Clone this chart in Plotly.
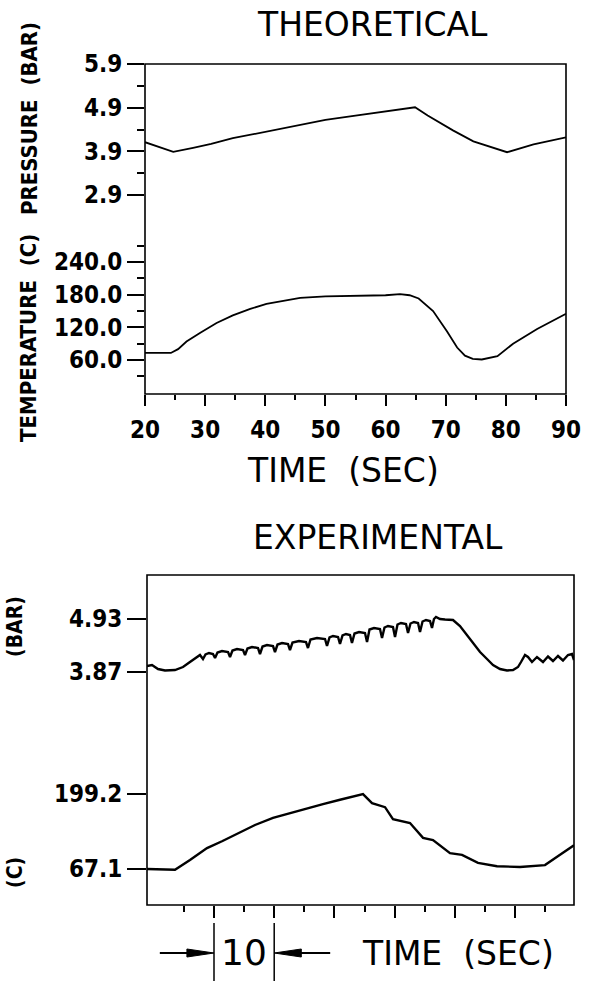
import plotly.graph_objects as go

W, H = 598, 981


def fx(p):
    return p / W


def fy(p):
    return 1 - p / H


# ---------------- data ----------------
# Theoretical pressure (bar) vs time (s)
theo_p_time = [20, 24.7, 28, 31, 34.6, 40, 45.8, 50, 55, 60, 63, 64.9, 67, 69, 71.2, 74.6, 77.5, 80.2, 84.6, 90]
theo_pressure = [4.11, 3.89, 3.98, 4.07, 4.20, 4.35, 4.52, 4.62, 4.72, 4.81, 4.87, 4.91, 4.72, 4.55, 4.38, 4.13, 4.00, 3.88, 4.06, 4.22]

# Theoretical temperature (C) vs time (s)
theo_T_time = [20, 24.3, 25.5, 26.9, 29.2, 31.9, 34.6, 37.5, 40.2, 43, 45.8, 50, 55, 60, 62.4, 64, 65.5,
               67.9, 70.2, 71.9, 73.2, 74.5, 76, 78.6, 81.2, 85.2, 90]
theo_temperature = [73, 73, 80, 94, 110, 128, 142, 154, 163, 169, 174, 177, 178, 179, 181, 179, 173,
                    150, 113, 83, 68, 62, 61, 67, 90, 117, 145]

# Experimental pressure (bar) vs time (s)
exp_p_time = [18.87, 19.70, 20.70, 21.86, 23.52, 24.85, 26.01, 27.01, 27.67,
              28.17, 28.59, 29.17, 29.83,
              30.17, 30.58, 31.33, 32.33,
              32.66, 33.07, 33.82, 34.82,
              35.15, 35.56, 36.31, 37.31,
              37.64, 38.06, 38.80, 39.80,
              40.13, 40.55, 41.30, 42.29,
              42.62, 43.04, 44.12, 45.28,
              45.61, 46.03, 47.11, 48.44,
              48.77, 49.19, 49.77, 50.60,
              50.93, 51.35, 51.93, 52.59,
              52.92, 53.34, 54.09, 55.08,
              55.42, 55.83, 56.58, 57.57,
              57.91, 58.32, 58.90, 59.73,
              60.07, 60.48, 61.06, 61.89,
              62.23, 62.64, 63.22, 63.89,
              64.22, 64.64, 65.22, 65.88,
              66.21, 66.54, 66.88, 67.54, 68.37, 69.70,
              70.86, 72.03, 73.19, 74.19, 75.35, 76.35, 77.51, 78.67, 79.67,
              80.50, 81.00, 81.50, 81.66, 82.16,
              82.82, 83.65, 84.65, 85.48, 86.31, 87.14, 87.97, 88.80, 89.47, 89.80]
exp_pressure = [3.99, 4.01, 3.93, 3.90, 3.91, 3.97, 4.07, 4.15, 4.21,
                4.13, 4.22, 4.25, 4.23,
                4.15, 4.26, 4.29, 4.27,
                4.17, 4.30, 4.33, 4.31,
                4.21, 4.34, 4.37, 4.35,
                4.23, 4.38, 4.41, 4.39,
                4.27, 4.42, 4.45, 4.43,
                4.31, 4.46, 4.49, 4.47,
                4.35, 4.52, 4.55, 4.53,
                4.39, 4.56, 4.59, 4.57,
                4.43, 4.60, 4.63, 4.61,
                4.45, 4.64, 4.67, 4.65,
                4.47, 4.72, 4.75, 4.73,
                4.55, 4.76, 4.79, 4.77,
                4.57, 4.82, 4.85, 4.83,
                4.65, 4.84, 4.87, 4.85,
                4.67, 4.88, 4.91, 4.89,
                4.75, 4.93, 4.97, 4.93, 4.92, 4.91,
                4.79, 4.61, 4.43, 4.27, 4.13, 4.01, 3.93, 3.90, 3.91,
                3.97, 4.07, 4.17, 4.21, 4.17,
                4.07, 4.17, 4.07, 4.18, 4.09, 4.19, 4.10, 4.21, 4.23, 4.11]

# Experimental temperature (C) vs time (s)
exp_T_time = [18.87, 21.03, 23.52, 26.01, 28.84, 31.33, 34.32, 36.81, 39.80, 42.62, 45.45, 48.10,
              50.93, 54.25, 54.75, 56.25, 58.41, 59.73, 62.56, 64.72, 66.38, 69.20, 71.20,
              73.85, 77.01, 80.83, 84.98, 87.48, 89.80]
exp_temperature = [67.1, 67.1, 65.8, 83, 104, 116, 132, 144.6, 157, 165.7, 174, 181.5,
                   189, 197, 199.1, 183, 176, 155, 148, 122, 118, 95, 92,
                   78, 72, 70.6, 74, 92, 109]

# Tick values / labels
theo_time_ticks = [20, 30, 40, 50, 60, 70, 80, 90]
theo_time_minor = [25, 35, 45, 55, 65, 75, 85]
theo_p_ticks = [2.9, 3.9, 4.9, 5.9]
theo_p_minor = [3.4, 4.4, 5.4]
theo_T_ticks = [60, 120, 180, 240]
theo_T_labels = ["60.0", "120.0", "180.0", "240.0"]
theo_T_minor = [30, 90, 150, 210, 270]
exp_time_ticks = [30, 40, 50, 60, 70, 80]
exp_time_minor = [25, 35, 45, 55, 65, 75, 85]
exp_p_ticks = [3.87, 4.93]
exp_p_labels = ["3.87", "4.93"]
exp_T_ticks = [67.1, 199.2]
exp_T_labels = ["67.1", "199.2"]

# ---------------- figure ----------------
LBLFAM = "DejaVu Sans Condensed, DejaVu Sans"
LBL = dict(family=LBLFAM, size=24, color="black", weight="bold")
TXT = "DejaVu Sans, Liberation Sans, sans-serif"

fig = go.Figure()
fig.add_trace(go.Scatter(x=theo_p_time, y=theo_pressure, xaxis="x", yaxis="y", mode="lines",
                         line=dict(color="black", width=1.8)))
fig.add_trace(go.Scatter(x=theo_T_time, y=theo_temperature, xaxis="x", yaxis="y2", mode="lines",
                         line=dict(color="black", width=1.8)))
fig.add_trace(go.Scatter(x=exp_p_time, y=exp_pressure, xaxis="x2", yaxis="y3", mode="lines",
                         line=dict(color="black", width=2.4)))
fig.add_trace(go.Scatter(x=exp_T_time, y=exp_temperature, xaxis="x2", yaxis="y4", mode="lines",
                         line=dict(color="black", width=2.4)))

common = dict(showgrid=False, zeroline=False, showline=False, ticks="outside", automargin=False,
              tickcolor="black", tickwidth=2, tickfont=LBL, tickmode="array")

fig.update_layout(
    template="none",
    width=W, height=H, margin=dict(l=0, r=0, t=0, b=0, pad=0), autosize=False,
    paper_bgcolor="white", plot_bgcolor="white", showlegend=False,
    xaxis=dict(domain=[fx(145), fx(566)], range=[20, 90], anchor="y2",
               tickvals=theo_time_ticks, ticklen=11, ticklabelstandoff=3,
               minor=dict(tickmode="array", tickvals=theo_time_minor, ticklen=5, ticks="outside",
                          tickcolor="black", tickwidth=2),
               **common),
    yaxis=dict(domain=[fy(210), fy(64)], range=[2.557, 5.9], anchor="x",
               tickvals=theo_p_ticks, ticktext=[f"{v:.1f}" for v in theo_p_ticks], ticklen=17,
               minor=dict(tickmode="array", tickvals=theo_p_minor, ticklen=7, ticks="outside",
                          tickcolor="black", tickwidth=2),
               **common),
    yaxis2=dict(domain=[fy(394), fy(240)], range=[-2.4, 280.5], anchor="x",
                tickvals=theo_T_ticks, ticktext=theo_T_labels, ticklen=17,
                minor=dict(tickmode="array", tickvals=theo_T_minor, ticklen=7, ticks="outside",
                           tickcolor="black", tickwidth=2),
                **common),
    xaxis2=dict(domain=[fx(147), fx(574)], range=[18.87, 89.8], anchor="y4",
                tickvals=exp_time_ticks, ticklen=12, showticklabels=False,
                minor=dict(tickmode="array", tickvals=exp_time_minor, ticklen=6, ticks="outside",
                           tickcolor="black", tickwidth=2),
                **common),
    yaxis3=dict(domain=[fy(700), fy(575)], range=[3.31, 5.81], anchor="x2",
                tickvals=exp_p_ticks, ticktext=exp_p_labels, ticklen=19, **common),
    yaxis4=dict(domain=[fy(905), fy(720)], range=[3.7, 329.5], anchor="x2",
                tickvals=exp_T_ticks, ticktext=exp_T_labels, ticklen=19, **common),
)

# frames
fig.add_shape(type="rect", xref="paper", yref="paper", x0=fx(145), x1=fx(566), y0=fy(394), y1=fy(64),
              line=dict(color="black", width=1.6))
fig.add_shape(type="rect", xref="paper", yref="paper", x0=fx(147), x1=fx(574), y0=fy(905), y1=fy(575),
              line=dict(color="black", width=1.6))

# 10-second scale bar (in time units of the experimental axis)
bar_y = fy(953)
hh = 4 / H
for xv in (30, 40):
    fig.add_shape(type="line", xref="x2", yref="paper", x0=xv, x1=xv, y0=fy(923), y1=fy(981),
                  line=dict(color="black", width=1.5))
fig.add_shape(type="line", xref="x2", yref="paper", x0=21.0, x1=26.0, y0=bar_y, y1=bar_y,
              line=dict(color="black", width=2))
fig.add_shape(type="path", xref="x2", yref="paper",
              path=f"M 25.5 {bar_y + hh} L 30 {bar_y} L 25.5 {bar_y - hh} Z",
              fillcolor="black", line=dict(color="black", width=1))
fig.add_shape(type="line", xref="x2", yref="paper", x0=44.0, x1=49.3, y0=bar_y, y1=bar_y,
              line=dict(color="black", width=2))
fig.add_shape(type="path", xref="x2", yref="paper",
              path=f"M 44.5 {bar_y + hh} L 40 {bar_y} L 44.5 {bar_y - hh} Z",
              fillcolor="black", line=dict(color="black", width=1))


def ann(text, x, y, size, bold=False, angle=0, xref="paper", family=TXT):
    fig.add_annotation(text=text, x=x, y=y, xref=xref, yref="paper", showarrow=False,
                       xanchor="center", yanchor="middle", textangle=angle,
                       font=dict(family=family, size=size, color="black",
                                 weight="bold" if bold else "normal"))


NB = "\u00a0"
ann("THEORETICAL", fx(372), fy(24), 33)
ann("TIME" + NB + NB + "(SEC)", fx(343), fy(470), 33)
ann("PRESSURE" + NB + NB + "(BAR)", fx(29), fy(119), 22, bold=True, angle=-90, family=LBLFAM)
ann("TEMPERATURE" + NB + NB + "(C)", fx(29), fy(338), 22, bold=True, angle=-90, family=LBLFAM)
ann("EXPERIMENTAL", fx(378), fy(537), 33)
ann("(BAR)", fx(15), fy(627), 21, bold=True, angle=-90, family=LBLFAM)
ann("(C)", fx(15), fy(873), 21, bold=True, angle=-90, family=LBLFAM)
ann("10", 35, fy(952), 36, xref="x2")
ann("TIME" + NB + NB + "(SEC)", fx(458), fy(953), 33)

fig.write_html("out.html", config={"displayModeBar": False},
               post_script="document.body.style.margin='0';document.body.style.overflow='hidden';")
